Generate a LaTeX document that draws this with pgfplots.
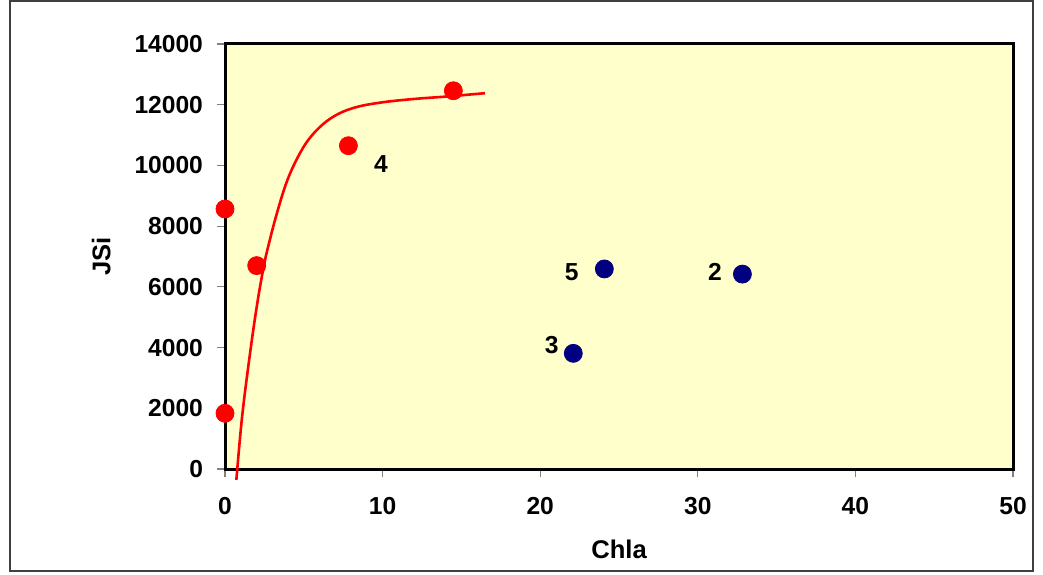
\documentclass[border=0pt]{standalone}
\usepackage{pgfplots}
\pgfplotsset{compat=1.18}
\usepackage{fontspec}
\setmainfont{Liberation Sans}
\definecolor{bgyellow}{HTML}{FFFFCC}
\definecolor{navyblue}{HTML}{000080}
\definecolor{framegray}{HTML}{404040}
\begin{document}
\begin{tikzpicture}
\path (0,0) rectangle (521.5pt,287pt);
\draw[line width=0.8pt, framegray] (5pt,1.5pt) rectangle (516.5pt,286.5pt);
\begin{axis}[
  at={(112.5pt,52.5pt)}, anchor=south west,
  scale only axis, width=394pt, height=212.5pt,
  xmin=0, xmax=50, ymin=0, ymax=14000,
  xtick={0,10,20,30,40,50}, ytick={0,2000,4000,6000,8000,10000,12000,14000},
  axis background/.style={fill=bgyellow},
  axis line style={line width=1.5pt, black},
  tick align=outside, tick pos=left,
  major tick length=4pt,
  tick style={gray, line width=0.6pt},
  /pgf/number format/assume math mode=true,
  /pgf/number format/1000 sep={},
  scaled y ticks=false,
  ticklabel style={font=\fontsize{12.3}{14}\selectfont\bfseries},
  xticklabel style={yshift=-6.5pt},
  yticklabel style={xshift=-3.5pt},
  label style={font=\fontsize{12.8}{15}\selectfont\bfseries},
  xlabel={Chla}, ylabel={JSi},
  xlabel style={at={(axis description cs:0.5,-0.188)}, anchor=center},
  ylabel style={at={(axis description cs:-0.157,0.5)}, anchor=center, rotate=0},
  clip=false,
]
\addplot[red, line width=1.3pt, smooth, tension=0.6] coordinates {
(0.72,-360) (1.08,1700) (1.56,3700) (2.0,5300) (2.43,6600) (2.75,7350)
(3.28,8400) (3.91,9450) (4.6,10250) (5.3,10850) (6.2,11350) (7.2,11700)
(8.4,11930) (10.0,12080) (12.0,12190) (14.07,12270) (16.5,12380)
};
\addplot[only marks, mark=*, mark size=4.5pt, mark options={fill=red, draw=red}] coordinates {
(0,8565) (0,1835) (2.01,6700) (7.83,10650) (14.49,12460)
};
\addplot[only marks, mark=*, mark size=4.5pt, mark options={fill=navyblue, draw=navyblue}] coordinates {
(24.07,6590) (22.1,3810) (32.83,6420)
};
\node[font=\fontsize{12.3}{14}\selectfont\bfseries] at (axis cs:9.9,10050) {4};
\node[font=\fontsize{12.3}{14}\selectfont\bfseries] at (axis cs:22.0,6500) {5};
\node[font=\fontsize{12.3}{14}\selectfont\bfseries] at (axis cs:31.09,6500) {2};
\node[font=\fontsize{12.3}{14}\selectfont\bfseries] at (axis cs:20.73,4080) {3};
\end{axis}
\end{tikzpicture}
\end{document}
